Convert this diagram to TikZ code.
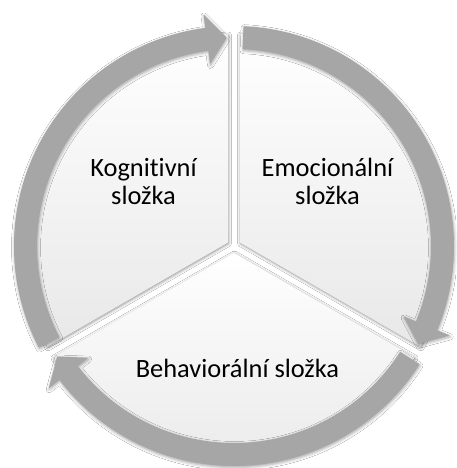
\documentclass[tikz,border=0pt]{standalone}
\usepackage{fontspec}
\setmainfont{Carlito}[Ligatures=NoCommon]
\usetikzlibrary{shadows.blur}
\definecolor{ringgray}{RGB}{166,166,166}
\begin{document}
\begin{tikzpicture}[x=1pt,y=1pt,
  sector/.style={top color=white, bottom color=black!9, draw=none,
    blur shadow={shadow xshift=0.5pt, shadow yshift=-1pt, shadow blur radius=3pt, shadow opacity=45}},
  ringarrow/.style={fill=ringgray, draw=none,
    blur shadow={shadow xshift=0.5pt, shadow yshift=-1.5pt, shadow blur radius=3pt, shadow opacity=35}},
  lbl/.style={font=\fontsize{26.4}{28}\selectfont, align=center, inner sep=0pt, text=black}]
\useasboundingbox[fill=white] (-234,-222) rectangle (222,246);
% pie sectors
\foreach \b in {150,30,270} {
  \path[sector] (\b:6.93) -- ({\b-58.38}:212) arc[start angle={\b-58.38}, end angle={\b+58.38}, radius=212] -- cycle;
}
% ring arrows
\foreach \s in {207.5,87.5,-32.5} {
  \pgfmathsetmacro\bk{\s-110}
  \pgfmathsetmacro\tp{\s-115.5}
  \path[ringarrow] (\s:220) arc[start angle=\s, end angle=\bk, radius=220]
    -- (\bk:233.5) -- (\tp:208.5) -- (\bk:183.5) -- (\bk:197)
    arc[start angle=\bk, end angle=\s, radius=197] -- cycle;
}
\node[lbl] (kog) at (-90.5,64.75) {Kognitivní\\složka};
\node[lbl] (emo) at (93.5,64.75) {Emocionální\\složka};
\node[lbl,anchor=base] (beh) at (3.5,-131) {Behaviorální složka};
\end{tikzpicture}
\end{document}
